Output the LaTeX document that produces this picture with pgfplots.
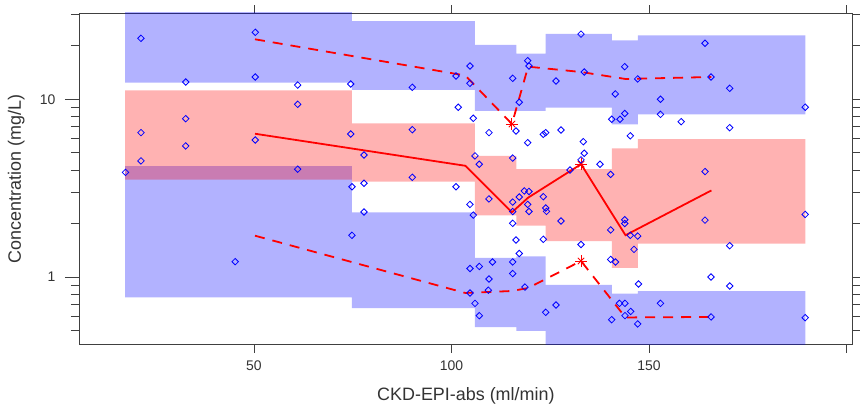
\documentclass[border=0pt]{standalone}
\usepackage{pgfplots}
\usepackage{pgfplotstable}
\pgfplotsset{compat=1.18}
\usepackage{fontspec}
\setmainfont{Liberation Sans}

\pgfplotstableread{
x y
17.47 3.88
21.39 22.04
21.39 6.49
21.39 4.50
32.71 12.51
32.71 7.78
32.71 5.46
45.24 1.22
50.33 23.82
50.33 13.35
50.33 5.90
61.06 12.03
61.06 9.37
61.06 4.04
74.5 12.19
74.5 6.38
74.8 3.22
74.8 1.717
77.85 4.86
77.85 3.37
77.85 2.32
90.08 11.68
90.08 6.74
90.08 3.64
101.14 13.52
101.14 3.22
101.72 9.02
104.68 15.39
104.68 12.30
104.68 2.56
104.68 1.116
104.68 0.813
105.52 7.82
105.52 2.23
105.95 4.80
105.95 0.711
107.04 4.31
107.04 1.146
107.04 0.606
109.49 6.49
109.49 2.75
109.49 0.974
109.32 0.843
110.38 1.215
115.49 13.13
115.49 4.67
115.49 2.64
115.49 2.336
115.49 2.005
115.49 1.215
115.49 1.046
116.33 6.63
116.33 1.616
117.16 9.62
117.16 2.82
117.16 1.356
118.43 3.05
118.6 0.878
119.29 16.49
119.29 5.70
119.29 2.56
119.62 15.39
119.62 3.03
119.62 2.336
123.24 6.35
123.85 6.49
123.24 2.83
123.24 1.63
123.85 2.445
124.05 2.34
123.85 0.633
126.46 12.68
126.46 0.696
127.72 6.72
127.72 2.065
130.0 4.00
132.78 23.26
132.78 4.56
132.78 1.523
133.37 5.77
133.62 14.24
133.62 4.97
137.59 4.31
140.30 3.78
140.30 1.84
140.30 1.255
140.56 7.72
140.56 0.575
141.47 10.71
141.52 1.215
142.53 0.711
142.66 7.72
143.85 15.26
143.85 8.32
143.85 2.10
143.85 2.00
143.92 0.711
143.92 0.606
145.27 6.23
145.27 1.717
145.37 0.640
146.2 1.43
147.14 13.01
147.14 1.70
147.14 0.544
147.34 0.913
152.91 10.0
152.91 8.23
152.91 0.711
158.15 7.48
164.18 20.66
164.18 3.92
164.18 2.09
165.70 13.35
165.70 1.0
165.70 0.596
170.43 11.53
170.43 6.92
170.43 1.50
170.43 0.890
189.54 9.02
189.54 2.25
189.54 0.590
}\obs

\begin{document}
\begin{tikzpicture}
\useasboundingbox (-79bp,-61.3bp) rectangle (781bp,344.7bp);
\begin{axis}[
  at={(0,0)}, anchor=south west,
  width=773.7bp, height=331.7bp, scale only axis,
  xmin=5.7, xmax=201.57,
  ymode=log, ymin=0.4159, ymax=30.59,
  axis line style={black!75, line width=0.8bp},
  tick align=outside,
  major tick length=8bp, minor tick length=8bp,
  tick style={black!75, line width=0.8bp},
  xtick={50,100,150,200}, xticklabels={50,100,150,{}},
  ytick={0.5,0.6,0.7,0.8,0.9,1,2,3,4,5,6,7,8,9,10,20,30},
  yticklabels={,,,,,1,,,,,,,,,10,,},
  yticklabel pos=left,
  extra y ticks={1,10}, extra y tick labels={},
  extra y tick style={major tick length=14bp},
  ticklabel style={font=\fontsize{14}{16}\selectfont, text=black!80},
  xticklabel style={yshift=-5bp},
  yticklabel style={xshift=-12bp},
  xlabel={CKD-EPI-abs (ml/min)},
  ylabel={Concentration (mg/L)},
  label style={font=\fontsize{18}{21}\selectfont, text=black!80},
  xlabel style={at={(axis description cs:0.5,-0.1697)}, anchor=base},
  ylabel style={at={(axis description cs:-0.0750,0.5)}, anchor=base, rotate=0},
  clip=true,
]
% upper PI band (95th percentile CI)
\addplot[draw=none, fill=blue, fill opacity=0.3] coordinates {
 (17.4,12.40) (17.4,40) (74.8,40) (74.8,27.57) (105.9,27.57) (105.9,20.21)
 (116.4,20.21) (116.4,18.06) (123.8,18.06) (123.8,23.31) (140.6,23.31)
 (140.6,21.42) (147.2,21.42) (147.2,22.86) (189.6,22.86) (189.6,8.235)
 (147.2,8.235) (147.2,7.215) (140.6,7.215) (140.6,8.99) (123.8,8.99)
 (123.8,8.60) (105.9,8.60) (105.9,11.28) (74.8,11.28) (74.8,12.40)} -- cycle;
% lower PI band (5th percentile CI)
\addplot[draw=none, fill=blue, fill opacity=0.3] coordinates {
 (17.4,0.769) (17.4,4.21) (74.8,4.21) (74.8,2.31) (105.9,2.31) (105.9,1.279)
 (116.4,1.279) (116.4,1.308) (123.8,1.308) (123.8,0.902) (140.6,0.902)
 (140.6,0.807) (147.2,0.807) (147.2,0.832) (189.6,0.832) (189.6,0.3)
 (123.8,0.3) (123.8,0.497) (116.4,0.497) (116.4,0.523) (105.9,0.523)
 (105.9,0.667) (74.8,0.667) (74.8,0.769)} -- cycle;
% median band
\addplot[draw=none, fill=red, fill opacity=0.3] coordinates {
 (17.4,3.53) (17.4,11.23) (74.8,11.23) (74.8,7.33) (105.9,7.33) (105.9,4.80)
 (116.4,4.80) (116.4,4.05) (123.8,4.05) (123.8,4.04) (140.6,4.04)
 (140.6,5.30) (147.2,5.30) (147.2,5.96) (189.6,5.96) (189.6,1.543)
 (147.2,1.543) (147.2,1.124) (140.6,1.124) (140.6,1.594) (123.8,1.594)
 (123.8,1.944) (116.4,1.944) (116.4,2.225) (105.9,2.225) (105.9,3.44)
 (74.8,3.44) (74.8,3.53)} -- cycle;
% observed percentiles
\addplot[red, line width=1.8bp, mark=none] coordinates {
 (50.25,6.40) (103.5,4.225) (115.3,2.313) (119.4,2.795) (132.8,4.313) (144.05,1.718) (165.8,3.07)};
\addplot[red, line width=1.8bp, mark=none, dash pattern=on 10bp off 8bp] coordinates {
 (50.25,21.76) (103.5,13.61) (115.3,7.26) (119.4,15.26) (132.8,14.24) (144.05,13.01) (165.8,13.35)};
\addplot[red, line width=1.8bp, mark=none, dash pattern=on 10bp off 8bp] coordinates {
 (50.25,1.708) (103.5,0.813) (115.3,0.834) (119.4,0.867) (132.8,1.230) (144.05,0.592) (165.8,0.596)};
% outside-CI markers
\addplot[red, only marks, mark=+, mark size=6bp, line width=0.9bp] coordinates {(115.3,7.26) (132.8,4.313) (132.8,1.230)};
\addplot[red, only marks, mark=x, mark size=4.5bp, line width=0.9bp] coordinates {(115.3,7.26) (132.8,4.313) (132.8,1.230)};
% observations
\addplot[blue, only marks, mark=square, mark size=2.3bp, mark options={rotate=45, line width=0.8bp}] table[x=x, y=y] {\obs};
\end{axis}
\end{tikzpicture}
\end{document}
